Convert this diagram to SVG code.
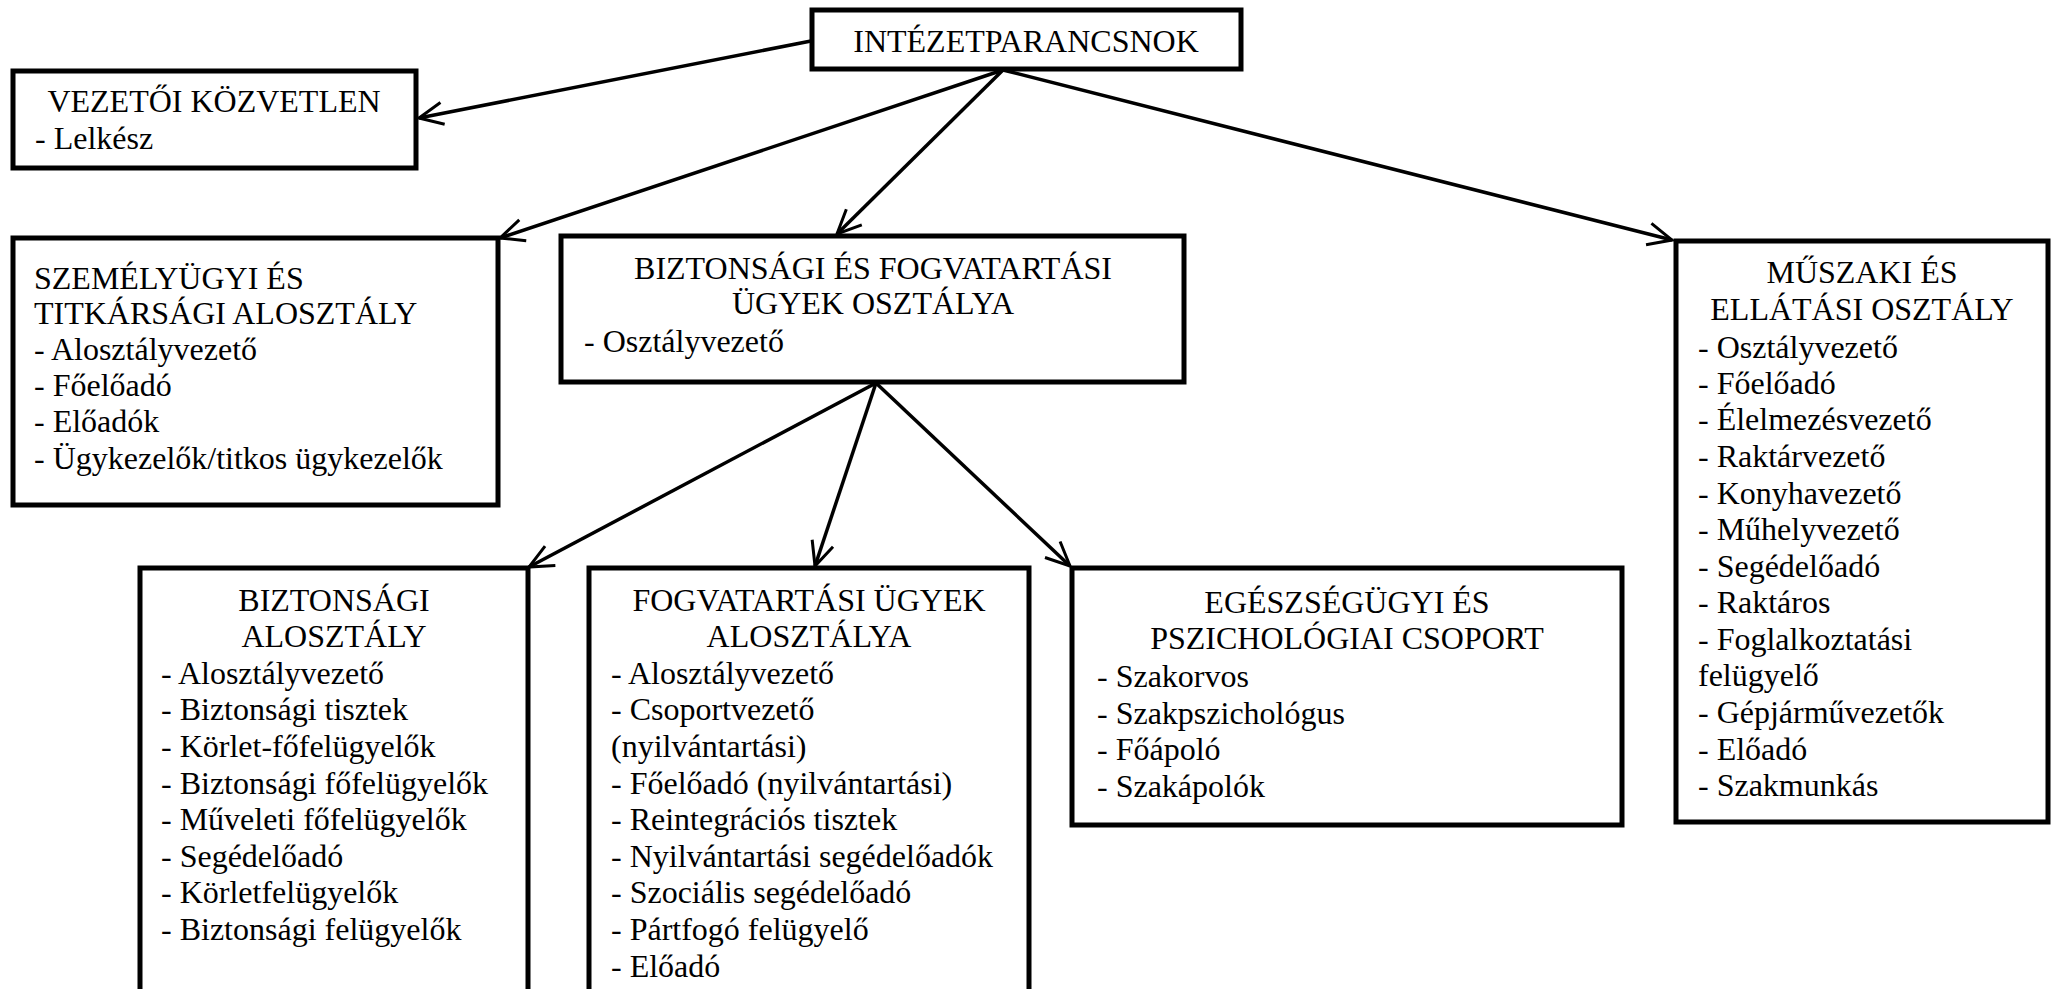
<svg xmlns="http://www.w3.org/2000/svg" width="2053" height="989" viewBox="0 0 2053 989">
<style>
.box{fill:#fff;stroke:#000;stroke-width:5}
.t{font-family:"Liberation Serif","Times New Roman",serif;font-size:32px;fill:#000}
.c{text-anchor:middle}
.edge{fill:none;stroke:#000;stroke-width:3.5}
</style>
<defs>
<marker id="arr" markerUnits="userSpaceOnUse" markerWidth="40" markerHeight="40" refX="26" refY="13" orient="auto">
<path d="M2,2 L26,13 L2,24" fill="none" stroke="#000" stroke-width="3"/>
</marker>
</defs>
<rect width="2053" height="989" fill="#fff"/>
<g id="connectors">
<line class="edge" x1="811" y1="41" x2="419" y2="118" marker-end="url(#arr)"/>
<line class="edge" x1="1003" y1="70" x2="500" y2="238" marker-end="url(#arr)"/>
<line class="edge" x1="1003" y1="70" x2="837" y2="234" marker-end="url(#arr)"/>
<line class="edge" x1="1003" y1="70" x2="1672" y2="240" marker-end="url(#arr)"/>
<line class="edge" x1="876" y1="383" x2="529" y2="567" marker-end="url(#arr)"/>
<line class="edge" x1="876" y1="383" x2="815" y2="566" marker-end="url(#arr)"/>
<line class="edge" x1="876" y1="383" x2="1070" y2="566" marker-end="url(#arr)"/>
</g>
<g id="n-intezet">
<rect class="box" x="812" y="10" width="429" height="59"/>
<text class="t c" x="1026" y="52">INTÉZETPARANCSNOK</text>
</g>
<g id="n-vezetoi">
<rect class="box" x="13" y="71" width="403" height="97"/>
<text class="t c" x="214" y="112">VEZETŐI KÖZVETLEN</text>
<text class="t" x="35" y="149">- Lelkész</text>
</g>
<g id="n-szemelyugyi">
<rect class="box" x="13" y="238" width="485" height="267"/>
<text class="t" x="34" y="289">SZEMÉLYÜGYI ÉS</text>
<text class="t" x="34" y="324">TITKÁRSÁGI ALOSZTÁLY</text>
<text class="t" x="34" y="360">- Alosztályvezető</text>
<text class="t" x="34" y="396">- Főelőadó</text>
<text class="t" x="34" y="432">- Előadók</text>
<text class="t" x="34" y="469">- Ügykezelők/titkos ügykezelők</text>
</g>
<g id="n-bizt-fogv">
<rect class="box" x="561" y="236" width="623" height="146"/>
<text class="t c" x="873" y="279">BIZTONSÁGI ÉS FOGVATARTÁSI</text>
<text class="t c" x="873" y="314">ÜGYEK OSZTÁLYA</text>
<text class="t" x="584" y="352">- Osztályvezető</text>
</g>
<g id="n-muszaki">
<rect class="box" x="1676" y="241" width="372" height="581"/>
<text class="t c" x="1862" y="283">MŰSZAKI ÉS</text>
<text class="t c" x="1862" y="320">ELLÁTÁSI OSZTÁLY</text>
<text class="t" x="1698" y="358">- Osztályvezető</text>
<text class="t" x="1698" y="394">- Főelőadó</text>
<text class="t" x="1698" y="430">- Élelmezésvezető</text>
<text class="t" x="1698" y="467">- Raktárvezető</text>
<text class="t" x="1698" y="504">- Konyhavezető</text>
<text class="t" x="1698" y="540">- Műhelyvezető</text>
<text class="t" x="1698" y="577">- Segédelőadó</text>
<text class="t" x="1698" y="613">- Raktáros</text>
<text class="t" x="1698" y="650">- Foglalkoztatási</text>
<text class="t" x="1698" y="686">felügyelő</text>
<text class="t" x="1698" y="723">- Gépjárművezetők</text>
<text class="t" x="1698" y="760">- Előadó</text>
<text class="t" x="1698" y="796">- Szakmunkás</text>
</g>
<g id="n-bizt-alo">
<rect class="box" x="140" y="568" width="388" height="440"/>
<text class="t c" x="334" y="611">BIZTONSÁGI</text>
<text class="t c" x="334" y="647">ALOSZTÁLY</text>
<text class="t" x="161" y="684">- Alosztályvezető</text>
<text class="t" x="161" y="720">- Biztonsági tisztek</text>
<text class="t" x="161" y="757">- Körlet-főfelügyelők</text>
<text class="t" x="161" y="794">- Biztonsági főfelügyelők</text>
<text class="t" x="161" y="830">- Műveleti főfelügyelők</text>
<text class="t" x="161" y="867">- Segédelőadó</text>
<text class="t" x="161" y="903">- Körletfelügyelők</text>
<text class="t" x="161" y="940">- Biztonsági felügyelők</text>
</g>
<g id="n-fogv-alo">
<rect class="box" x="589" y="568" width="440" height="440"/>
<text class="t c" x="809" y="611">FOGVATARTÁSI ÜGYEK</text>
<text class="t c" x="809" y="647">ALOSZTÁLYA</text>
<text class="t" x="611" y="684">- Alosztályvezető</text>
<text class="t" x="611" y="720">- Csoportvezető</text>
<text class="t" x="611" y="757">(nyilvántartási)</text>
<text class="t" x="611" y="794">- Főelőadó (nyilvántartási)</text>
<text class="t" x="611" y="830">- Reintegrációs tisztek</text>
<text class="t" x="611" y="867">- Nyilvántartási segédelőadók</text>
<text class="t" x="611" y="903">- Szociális segédelőadó</text>
<text class="t" x="611" y="940">- Pártfogó felügyelő</text>
<text class="t" x="611" y="977">- Előadó</text>
</g>
<g id="n-egeszseg">
<rect class="box" x="1072" y="568" width="550" height="257"/>
<text class="t c" x="1347" y="613">EGÉSZSÉGÜGYI ÉS</text>
<text class="t c" x="1347" y="649">PSZICHOLÓGIAI CSOPORT</text>
<text class="t" x="1097" y="687">- Szakorvos</text>
<text class="t" x="1097" y="724">- Szakpszichológus</text>
<text class="t" x="1097" y="760">- Főápoló</text>
<text class="t" x="1097" y="797">- Szakápolók</text>
</g>
</svg>
